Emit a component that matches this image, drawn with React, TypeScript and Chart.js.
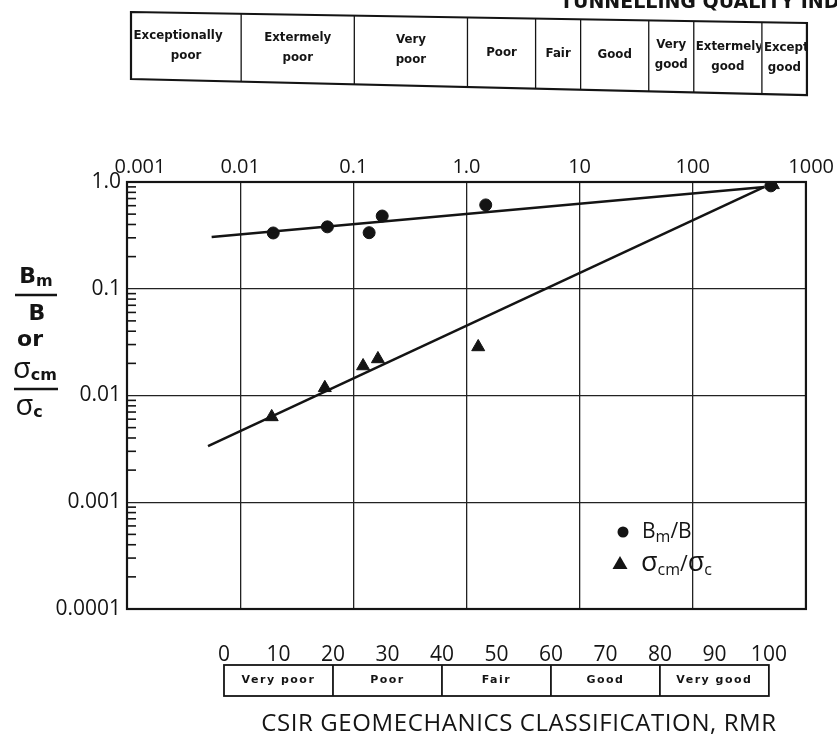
import { useEffect, useRef } from 'react';
import { Chart, registerables } from 'chart.js';

Chart.register(...registerables);

// ---- axis ticks ----
const X_TICKS = [0.001, 0.01, 0.1, 1, 10, 100, 1000];
const X_TICK_LABELS = ['     0.001', '0.01', '0.1', '1.0', '10', '100', '  1000'];
const Y_TICKS = [0.0001, 0.001, 0.01, 0.1, 1];
const Y_TICK_LABELS = ['0.0001', '0.001', '0.01', '0.1', '1.0'];
const RMR_TICKS = [0, 10, 20, 30, 40, 50, 60, 70, 80, 90, 100];

// ---- data: Bm/B ----
const BM_Q = [0.0196, 0.059, 0.138, 0.18, 1.48, 490];
const BM_RATIO = [0.333, 0.38, 0.335, 0.48, 0.61, 0.92];
// ---- data: sigma_cm/sigma_c ----
const SIGMA_Q = [0.019, 0.056, 0.122, 0.165, 1.27, 510];
const SIGMA_RATIO = [0.0063, 0.0118, 0.0189, 0.022, 0.0285, 0.94];
// ---- fitted lines ----
const BM_FIT_Q = [0.0056, 430];
const BM_FIT = [0.305, 0.9];
const SIGMA_FIT_Q = [0.0052, 430];
const SIGMA_FIT = [0.00336, 0.9];

// ---- classification tables ----
const Q_BOUNDS = [0.001, 0.01, 0.1, 1, 4, 10, 40, 100, 400, 1000];
const Q_CLASS_LINE1 = ['Exceptionally', 'Extermely', 'Very', 'Poor', 'Fair', 'Good', 'Very', 'Extermely', 'Exceptionally'];
const Q_CLASS_LINE2 = ['poor', 'poor', 'poor', '', '', '', 'good', 'good', 'good'];
const Q_HEADING = 'TUNNELLING QUALITY INDEX, Q';
const RMR_BOUNDS = [0, 20, 40, 60, 80, 100];
const RMR_CLASSES = ['Very poor', 'Poor', 'Fair', 'Good', 'Very good'];
const RMR_TITLE = 'CSIR GEOMECHANICS CLASSIFICATION, RMR';

const INK = '#141414';

type Run = { text: string; font: string; dy?: number };
function drawRuns(ctx: CanvasRenderingContext2D, x: number, y: number, runs: Run[], align: 'left' | 'center') {
  let total = 0;
  runs.forEach((r) => { ctx.font = r.font; total += ctx.measureText(r.text).width; });
  let cx = align === 'center' ? x - total / 2 : x;
  ctx.textAlign = 'left';
  ctx.textBaseline = 'alphabetic';
  runs.forEach((r) => {
    ctx.font = r.font;
    ctx.fillText(r.text, cx, y + (r.dy || 0));
    cx += ctx.measureText(r.text).width;
  });
}

const decor = {
  id: 'decor',
  afterDraw(chart: any) {
    const ctx: CanvasRenderingContext2D = chart.ctx;
    const { left, right, top, bottom } = chart.chartArea;
    const xs = chart.scales.x;
    const ys = chart.scales.y;
    const rs = chart.scales.rmr;
    ctx.save();
    ctx.strokeStyle = INK;
    ctx.fillStyle = INK;

    // plot frame
    ctx.lineWidth = 2.2;
    ctx.strokeRect(left, top, right - left, bottom - top);

    // minor ticks on left axis
    ctx.lineWidth = 1.6;
    for (let e = -4; e < 0; e++) {
      for (let k = 2; k <= 9; k++) {
        const py = ys.getPixelForValue(k * Math.pow(10, e));
        ctx.beginPath();
        ctx.moveTo(left, py);
        ctx.lineTo(left + 9, py);
        ctx.stroke();
      }
    }

    // y-axis title (fraction)
    const main = 'bold 22px "DejaVu Sans"';
    const sub = 'bold 16px "DejaVu Sans"';
    const sig = '29px "Open Sans"';
    drawRuns(ctx, 36, 283, [{ text: 'B', font: main }, { text: 'm', font: sub, dy: 3 }], 'center');
    ctx.lineWidth = 2.6;
    ctx.beginPath(); ctx.moveTo(15, 295); ctx.lineTo(57, 295); ctx.stroke();
    drawRuns(ctx, 37, 320, [{ text: 'B', font: main }], 'center');
    drawRuns(ctx, 30, 346, [{ text: 'or', font: main }], 'center');
    drawRuns(ctx, 35, 378, [{ text: 'σ', font: sig }, { text: 'cm', font: sub, dy: 2 }], 'center');
    ctx.beginPath(); ctx.moveTo(14, 389); ctx.lineTo(58, 389); ctx.stroke();
    drawRuns(ctx, 29, 415, [{ text: 'σ', font: sig }, { text: 'c', font: sub, dy: 2 }], 'center');

    // legend
    const lf = '21px "Open Sans"';
    const ls = '16px "Open Sans"';
    const lsig = '27px "Open Sans"';
    ctx.beginPath(); ctx.arc(623, 532, 5.5, 0, Math.PI * 2); ctx.fill();
    drawRuns(ctx, 642, 538, [{ text: 'B', font: lf }, { text: 'm', font: ls, dy: 4 }, { text: '/B', font: lf }], 'left');
    ctx.beginPath(); ctx.moveTo(620, 556); ctx.lineTo(627.5, 569); ctx.lineTo(612.5, 569); ctx.closePath(); ctx.fill();
    drawRuns(ctx, 641, 571, [
      { text: 'σ', font: lsig }, { text: 'cm', font: ls, dy: 4 }, { text: '/', font: lf },
      { text: 'σ', font: lsig }, { text: 'c', font: ls, dy: 4 },
    ], 'left');

    // Q heading (cut at top of page)
    ctx.font = 'bold 19px "DejaVu Sans"';
    ctx.textAlign = 'left';
    ctx.textBaseline = 'alphabetic';
    ctx.fillText(Q_HEADING, 560, 8);

    // Q classification table (slightly skewed, as scanned)
    const x0 = xs.getPixelForValue(Q_BOUNDS[0]) + 4;
    const tTop = (x: number) => 12 + 0.0163 * (x - x0);
    const tBot = (x: number) => 79 + 0.0237 * (x - x0);
    const xq = Q_BOUNDS.map((q, i) => (i === 0 ? x0 : xs.getPixelForValue(q) + 1));
    const xEnd = xq[xq.length - 1];
    ctx.lineWidth = 2.2;
    ctx.beginPath();
    ctx.moveTo(x0, tTop(x0)); ctx.lineTo(xEnd, tTop(xEnd)); ctx.lineTo(xEnd, tBot(xEnd)); ctx.lineTo(x0, tBot(x0)); ctx.closePath();
    ctx.stroke();
    ctx.lineWidth = 1.3;
    for (let i = 1; i < xq.length - 1; i++) {
      ctx.beginPath(); ctx.moveTo(xq[i], tTop(xq[i])); ctx.lineTo(xq[i], tBot(xq[i])); ctx.stroke();
    }
    ctx.font = 'bold 11.8px "DejaVu Sans"';
    ctx.textBaseline = 'middle';
    for (let i = 0; i < Q_CLASS_LINE1.length; i++) {
      const a = xq[i], b = xq[i + 1];
      const cx = (a + b) / 2;
      const mid = (tTop(cx) + tBot(cx)) / 2;
      ctx.save();
      ctx.beginPath(); ctx.rect(a + 1, 0, b - a - 2, 120); ctx.clip();
      const lines = Q_CLASS_LINE2[i] ? [Q_CLASS_LINE1[i], Q_CLASS_LINE2[i]] : [Q_CLASS_LINE1[i]];
      lines.forEach((t, j) => {
        const y = lines.length === 1 ? mid : mid + (j === 0 ? -11 : 9);
        const w = ctx.measureText(t).width;
        if (w > b - a - 3) { ctx.textAlign = 'left'; ctx.fillText(t, a + 2, y); }
        else { ctx.textAlign = 'center'; ctx.fillText(t, cx - (j === 0 && i === 0 ? 8 : 0), y); }
      });
      ctx.restore();
    }

    // RMR class boxes
    const rx = RMR_BOUNDS.map((v) => rs.getPixelForValue(v));
    const by0 = 665, by1 = 696;
    ctx.lineWidth = 1.8;
    ctx.strokeRect(rx[0], by0, rx[rx.length - 1] - rx[0], by1 - by0);
    for (let i = 1; i < rx.length - 1; i++) {
      ctx.beginPath(); ctx.moveTo(rx[i], by0); ctx.lineTo(rx[i], by1); ctx.stroke();
    }
    ctx.font = 'bold 11px "DejaVu Sans"';
    (ctx as any).letterSpacing = '1.5px';
    ctx.textAlign = 'center';
    ctx.textBaseline = 'middle';
    RMR_CLASSES.forEach((t, i) => ctx.fillText(t, (rx[i] + rx[i + 1]) / 2, 680));

    // RMR title
    (ctx as any).letterSpacing = '0.6px';
    ctx.font = '24px "Open Sans"';
    ctx.textAlign = 'center';
    ctx.textBaseline = 'alphabetic';
    ctx.fillText(RMR_TITLE, 519, 731);
    (ctx as any).letterSpacing = '0px';

    ctx.restore();
  },
};

export default function App() {
  const ref = useRef<HTMLCanvasElement | null>(null);
  useEffect(() => {
    if (!ref.current) return;
    const pts = (xs: number[], ys: number[]) => xs.map((x, i) => ({ x, y: ys[i] }));
    const chart = new Chart(ref.current, {
      type: 'scatter',
      data: {
        datasets: [
          {
            label: 'Bm/B fit', data: pts(BM_FIT_Q, BM_FIT), showLine: true, pointRadius: 0,
            borderColor: INK, borderWidth: 2.5, xAxisID: 'x', yAxisID: 'y',
          },
          {
            label: 'σcm/σc fit', data: pts(SIGMA_FIT_Q, SIGMA_FIT), showLine: true, pointRadius: 0,
            borderColor: INK, borderWidth: 2.5, xAxisID: 'x', yAxisID: 'y',
          },
          {
            label: 'Bm/B', data: pts(BM_Q, BM_RATIO), pointStyle: 'circle', pointRadius: 6,
            backgroundColor: INK, borderColor: INK, borderWidth: 1, xAxisID: 'x', yAxisID: 'y',
          },
          {
            label: 'σcm/σc', data: pts(SIGMA_Q, SIGMA_RATIO), pointStyle: 'triangle', pointRadius: 7.5,
            backgroundColor: INK, borderColor: INK, borderWidth: 1, xAxisID: 'x', yAxisID: 'y',
          },
        ],
      },
      options: {
        responsive: false,
        animation: false,
        devicePixelRatio: 1,
        layout: { padding: { top: 152, left: 0, right: 31, bottom: 66 } },
        plugins: { legend: { display: false }, tooltip: { enabled: false } },
        scales: {
          x: {
            type: 'logarithmic', position: 'top', min: 0.001, max: 1000,
            afterBuildTicks: (s: any) => { s.ticks = X_TICKS.map((v) => ({ value: v })); },
            afterFit: (s: any) => { s.height = 30; },
            ticks: {
              callback: (_v: any, i: number) => X_TICK_LABELS[i],
              padding: 3, maxRotation: 0, autoSkip: false, color: INK,
              font: { family: 'Open Sans', size: 20 },
            },
            grid: { color: '#222', lineWidth: 1.3, drawTicks: false },
            border: { display: false },
          },
          y: {
            type: 'logarithmic', position: 'left', min: 0.0001, max: 1,
            afterBuildTicks: (s: any) => { s.ticks = Y_TICKS.map((v) => ({ value: v })); },
            afterFit: (s: any) => { s.width = 127; },
            ticks: {
              callback: (_v: any, i: number) => Y_TICK_LABELS[i],
              padding: 6, autoSkip: false, color: INK,
              font: { family: 'Open Sans', size: 21 },
            },
            grid: { color: '#222', lineWidth: 1.3, drawTicks: false },
            border: { display: false },
          },
          rmr: {
            type: 'linear', axis: 'x', position: 'bottom', min: -17.8, max: 106.8,
            afterBuildTicks: (s: any) => { s.ticks = RMR_TICKS.map((v) => ({ value: v })); },
            afterFit: (s: any) => { s.height = 60; },
            ticks: {
              callback: (_v: any, i: number) => String(RMR_TICKS[i]),
              padding: 33, maxRotation: 0, autoSkip: false, color: INK,
              font: { family: 'Open Sans', size: 21 },
            },
            grid: { display: false, drawTicks: false },
            border: { display: false },
          },
        },
      } as any,
      plugins: [decor],
    });
    return () => chart.destroy();
  }, []);
  return (
    <div style={{ position: 'absolute', left: 0, top: 0, width: 837, height: 735, background: '#fff' }}>
      <canvas ref={ref} width={837} height={735} style={{ display: 'block' }} />
    </div>
  );
}
